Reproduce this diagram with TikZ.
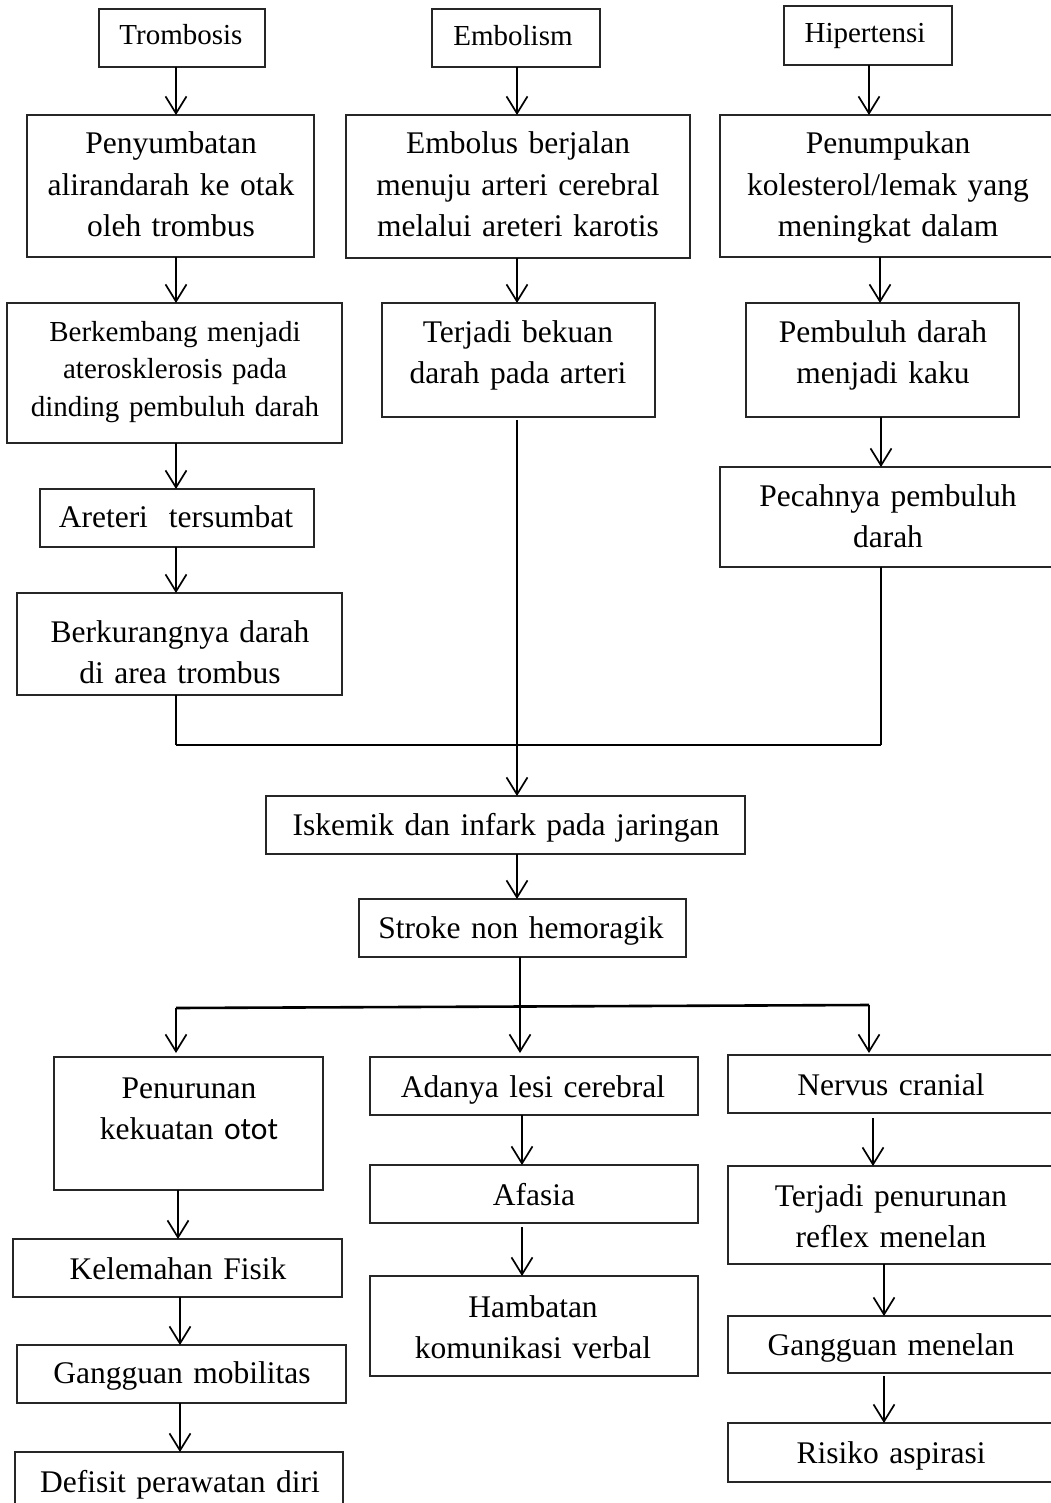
\documentclass[tikz,border=0pt]{standalone}
\usepackage{fontspec}
\setmainfont{Liberation Serif}
\newfontfamily\ototfont{Carlito}
\usetikzlibrary{arrows.meta}
\tikzset{
  bx/.style={draw=black!85, line width=1.1pt, anchor=north west, inner sep=0pt, outer sep=0pt},
  tx/.style={anchor=base, align=center, text width=560pt, inner sep=0pt,
             font=\fontsize{31.5}{41.5}\selectfont},
  sm/.style={font=\fontsize{29}{37.5}\selectfont},
  ln/.style={line width=1.7pt},
  hv/.style={line width=2.6pt},
  arr/.style={line width=1.7pt, -{Straight Barb[length=17pt,width=21pt]}}
}
\newcommand\mkbox[5]{\node[bx, minimum width={(#4-#2)*1pt}, minimum height={(#5-#3)*1pt}] (#1) at (#2,#3) {};}
\begin{document}
\begin{tikzpicture}[x=1pt,y=-1pt]
\useasboundingbox (0,0) rectangle (1051,1503);
\fill[white] (0,0) rectangle (1051,1503);
\clip (0,0) rectangle (1051,1503);

% top row
\mkbox{trom}{99}{9}{265}{67}
\node[tx,sm] (trom-t) at (181,45) {Trombosis};
\mkbox{embo}{432}{9}{600}{67}
\node[tx,sm] (embo-t) at (513,46) {Embolism};
\mkbox{hiper}{784}{6}{952}{65}
\node[tx,sm] (hiper-t) at (865,43) {Hipertensi};

% row 2
\mkbox{peny}{27}{115}{314}{257}
\node[tx] (peny-t) at (171,154) {Penyumbatan\\alirandarah ke otak\\oleh trombus};
\mkbox{embolus}{346}{115}{690}{258}
\node[tx] (embolus-t) at (518,154) {Embolus berjalan\\menuju arteri cerebral\\melalui areteri karotis};
\mkbox{penum}{720}{115}{1056}{257}
\node[tx] (penum-t) at (888,154) {Penumpukan\\kolesterol/lemak yang\\meningkat dalam};

% row 3
\mkbox{berk}{7}{303}{342}{443}
\node[tx,sm] (berk-t) at (175,341) {Berkembang menjadi\\aterosklerosis pada\\dinding pembuluh darah};
\mkbox{terjadi}{382}{303}{655}{417}
\node[tx] (terjadi-t) at (518,342) {Terjadi bekuan\\darah pada arteri};
\mkbox{pembuluh}{746}{303}{1019}{417}
\node[tx] (pembuluh-t) at (883,342) {Pembuluh darah\\menjadi kaku};

% row 4
\mkbox{areteri}{40}{489}{314}{547}
\node[tx] (areteri-t) at (176,527) {Areteri\ \ tersumbat};
\mkbox{pecah}{720}{467}{1056}{567}
\node[tx] (pecah-t) at (888,506) {Pecahnya pembuluh\\darah};

% row 5
\mkbox{berkur}{17}{593}{342}{695}
\node[tx] (berkur-t) at (180,642) {Berkurangnya darah\\di area trombus};

% centre
\mkbox{iskemik}{266}{796}{745}{854}
\node[tx] (iskemik-t) at (506,835) {Iskemik dan infark pada jaringan};
\mkbox{stroke}{359}{899}{686}{957}
\node[tx] (stroke-t) at (521,938) {Stroke non hemoragik};

% bottom left
\mkbox{penur}{54}{1057}{323}{1190}
\node[tx] (penur-t) at (189,1098) {Penurunan\\kekuatan {\ototfont otot}};
\mkbox{kelem}{13}{1239}{342}{1297}
\node[tx] (kelem-t) at (178,1279) {Kelemahan Fisik};
\mkbox{ganmob}{17}{1345}{346}{1403}
\node[tx] (ganmob-t) at (182,1383) {Gangguan mobilitas};
\mkbox{defisit}{15}{1452}{343}{1520}
\node[tx] (defisit-t) at (180,1492) {Defisit perawatan diri};

% bottom middle
\mkbox{adanya}{370}{1057}{698}{1115}
\node[tx] (adanya-t) at (533,1097) {Adanya lesi cerebral};
\mkbox{afasia}{370}{1165}{698}{1223}
\node[tx] (afasia-t) at (534,1205) {Afasia};
\mkbox{hamb}{370}{1276}{698}{1376}
\node[tx] (hamb-t) at (533,1317) {Hambatan\\komunikasi verbal};

% bottom right
\mkbox{nervus}{728}{1055}{1056}{1113}
\node[tx] (nervus-t) at (891,1095) {Nervus cranial};
\mkbox{terpen}{728}{1166}{1056}{1264}
\node[tx] (terpen-t) at (891,1206) {Terjadi penurunan\\reflex menelan};
\mkbox{ganmen}{728}{1316}{1056}{1373}
\node[tx] (ganmen-t) at (891,1355) {Gangguan menelan};
\mkbox{risiko}{728}{1423}{1056}{1482}
\node[tx] (risiko-t) at (891,1463) {Risiko aspirasi};

% junction points
\coordinate (j1l) at (176,745);
\coordinate (j1m) at (517,745);
\coordinate (j1r) at (881,745);
\coordinate (j2l) at (176,1008);
\coordinate (j2m) at (520,1007);
\coordinate (j2r) at (869,1005);

% connectors
\draw[arr] (trom.south -| 176,0) -- (peny.north -| 176,0);
\draw[arr] (embo.south -| 517,0) -- (embolus.north -| 517,0);
\draw[arr] (hiper.south -| 869,0) -- (penum.north -| 869,0);
\draw[arr] (peny.south -| 176,0) -- (berk.north -| 176,0);
\draw[arr] (embolus.south -| 517,0) -- (terjadi.north -| 517,0);
\draw[arr] (penum.south -| 880,0) -- (pembuluh.north -| 880,0);
\draw[arr] (berk.south -| 176,0) -- (areteri.north -| 176,0);
\draw[arr] (pembuluh.south -| 881,0) -- (pecah.north -| 881,0);
\draw[arr] (areteri.south -| 176,0) -- (berkur.north -| 176,0);
\draw[ln] (berkur.south -| j1l) -- (j1l);
\draw[ln] (pecah.south -| j1r) -- (j1r);
\draw[hv] (j1l) -- (j1r);
\draw[arr] ([yshift=-3pt]terjadi.south -| j1m) -- (iskemik.north -| j1m);
\draw[arr] (iskemik.south -| 517,0) -- (stroke.north -| 517,0);
\draw[ln] (stroke.south -| j2m) -- (j2m);
\draw[hv] (j2l) -- (j2r);
\draw[arr] (j2l) -- ([yshift=4pt]penur.north -| j2l);
\draw[arr] (j2m) -- ([yshift=4pt]adanya.north -| j2m);
\draw[arr] (j2r) -- ([yshift=2pt]nervus.north -| j2r);
\draw[arr] (penur.south -| 178,0) -- (kelem.north -| 178,0);
\draw[arr] (kelem.south -| 180,0) -- (ganmob.north -| 180,0);
\draw[arr] (ganmob.south -| 180,0) -- (defisit.north -| 180,0);
\draw[arr] (adanya.south -| 522,0) -- (afasia.north -| 522,0);
\draw[arr] ([yshift=-4pt]afasia.south -| 522,0) -- (hamb.north -| 522,0);
\draw[arr] ([yshift=-5pt]nervus.south -| 873,0) -- (terpen.north -| 873,0);
\draw[arr] (terpen.south -| 884,0) -- (ganmen.north -| 884,0);
\draw[arr] ([yshift=-3pt]ganmen.south -| 884,0) -- (risiko.north -| 884,0);
\end{tikzpicture}
\end{document}
